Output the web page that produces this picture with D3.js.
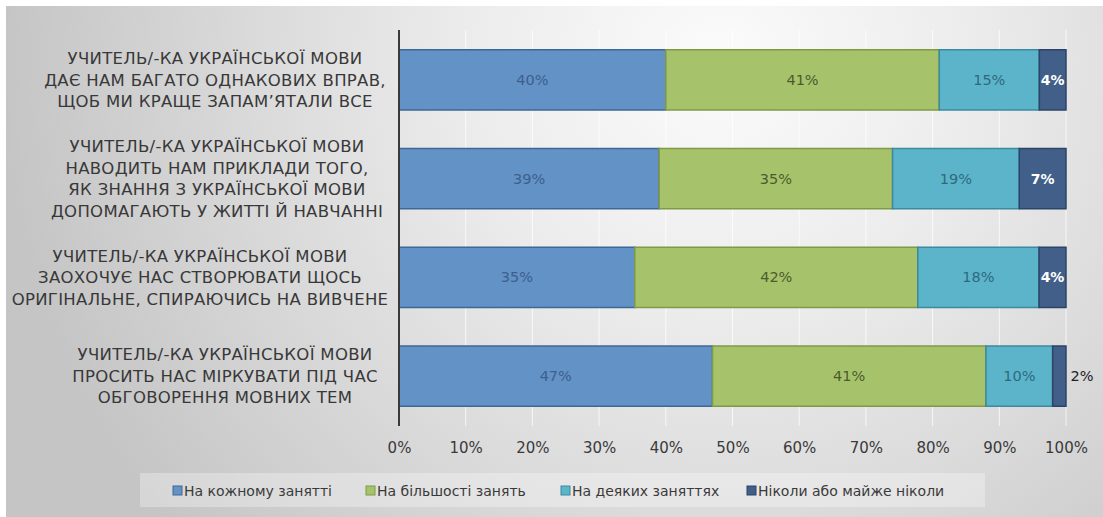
<!DOCTYPE html>
<html>
<head>
<meta charset="utf-8">
<script src="https://cdn.jsdelivr.net/npm/d3@7"></script>
<style>
  html, body { margin: 0; padding: 0; background: #fff; }
  svg { display: block; }
</style>
</head>
<body>
<svg id="chart"></svg>
<script>
// categories (one entry per line of the label)
var categories = [
  ['УЧИТЕЛЬ/-КА  УКРАЇНСЬКОЇ МОВИ', 'ДАЄ НАМ БАГАТО ОДНАКОВИХ ВПРАВ,', 'ЩОБ МИ КРАЩЕ ЗАПАМ’ЯТАЛИ ВСЕ'],
  ['УЧИТЕЛЬ/-КА УКРАЇНСЬКОЇ МОВИ', 'НАВОДИТЬ НАМ ПРИКЛАДИ ТОГО,', 'ЯК ЗНАННЯ З УКРАЇНСЬКОЇ МОВИ', 'ДОПОМАГАЮТЬ У ЖИТТІ Й НАВЧАННІ'],
  ['УЧИТЕЛЬ/-КА УКРАЇНСЬКОЇ МОВИ', 'ЗАОХОЧУЄ НАС СТВОРЮВАТИ ЩОСЬ', 'ОРИГІНАЛЬНЕ, СПИРАЮЧИСЬ НА ВИВЧЕНЕ'],
  ['УЧИТЕЛЬ/-КА УКРАЇНСЬКОЇ МОВИ', 'ПРОСИТЬ НАС МІРКУВАТИ ПІД ЧАС', 'ОБГОВОРЕННЯ МОВНИХ ТЕМ']
];
var seriesNames = ['На кожному занятті', 'На більшості занять', 'На деяких заняттях', 'Ніколи або майже ніколи'];
var everyLesson = [40, 39, 35, 47];
var mostLessons = [41, 35, 42, 41];
var someLessons = [15, 19, 18, 10];
var neverLessons = [4, 7, 4, 2];
var tickValues = [0, 0.1, 0.2, 0.3, 0.4, 0.5, 0.6, 0.7, 0.8, 0.9, 1];

var W = 1103, H = 517;
var FONT = "'DejaVu Sans', 'Liberation Serif', serif";
var colors = ['#6292c6', '#a6c36c', '#5cb4cb', '#415f88'];
var strokes = ['#3f6796', '#7f9a45', '#3a8aa0', '#2c4466'];
var textColors = ['#3e5f8c', '#4d5b2c', '#2e6a7c', '#ffffff'];
var labelCenterX = [215, 217, 200, 225];

var svg = d3.select('#chart').attr('width', W).attr('height', H).attr('font-family', FONT);
var defs = svg.append('defs');
var grad = defs.append('radialGradient').attr('id', 'bg')
  .attr('gradientUnits', 'userSpaceOnUse')
  .attr('cx', 720).attr('cy', 60).attr('r', 720);
grad.append('stop').attr('offset', '0').attr('stop-color', '#fbfbfb');
grad.append('stop').attr('offset', '0.35').attr('stop-color', '#ececec');
grad.append('stop').attr('offset', '1').attr('stop-color', '#c5c5c5');

svg.append('rect').attr('x', 6).attr('y', 6).attr('width', W - 6).attr('height', H - 6).attr('fill', 'url(#bg)');

var rows = categories.map(function (c, i) {
  return { idx: i, s0: everyLesson[i], s1: mostLessons[i], s2: someLessons[i], s3: neverLessons[i] };
});
var keys = ['s0', 's1', 's2', 's3'];
var stack = d3.stack().keys(keys).offset(d3.stackOffsetExpand);
var layers = stack(rows);

var x = d3.scaleLinear().domain([0, 1]).range([399, 1066]);
var y = d3.scaleBand().domain(d3.range(categories.length)).range([30, 426]).paddingInner(0.39).paddingOuter(0.2);

// gridlines
svg.append('g').selectAll('line').data(tickValues.slice(1)).enter().append('line')
  .attr('x1', function (d) { return x(d); }).attr('x2', function (d) { return x(d); })
  .attr('y1', 30).attr('y2', 426)
  .attr('stroke', '#ffffff').attr('stroke-opacity', 0.75).attr('stroke-width', 1);

// bars
var layerG = svg.append('g').selectAll('g').data(layers).enter().append('g');
layerG.selectAll('rect').data(function (d) { return d; }).enter().append('rect')
  .attr('x', function (d) { return x(d[0]); })
  .attr('y', function (d) { return y(d.data.idx); })
  .attr('width', function (d) { return x(d[1]) - x(d[0]); })
  .attr('height', y.bandwidth())
  .attr('fill', function () { return colors[d3.select(this.parentNode).datum().index]; })
  .attr('stroke', function () { return strokes[d3.select(this.parentNode).datum().index]; })
  .attr('stroke-width', 1.5);

// bar value labels
layerG.selectAll('text').data(function (d) {
  return d.map(function (p) { return { p: p, k: d.key, i: d.index }; });
}).enter().append('text')
  .each(function (d) {
    var w = x(d.p[1]) - x(d.p[0]);
    var t = d3.select(this);
    var outside = w < 20;
    t.attr('x', outside ? x(d.p[1]) + 16 : (x(d.p[0]) + x(d.p[1])) / 2)
      .attr('y', y(d.p.data.idx) + y.bandwidth() / 2)
      .attr('dy', '0.35em')
      .attr('text-anchor', 'middle')
      .attr('font-size', (d.i === 3 && !outside) ? 14 : 14.5)
      .attr('fill', outside ? '#222' : textColors[d.i])
      .attr('font-weight', (d.i === 3 && !outside) ? 'bold' : 'normal')
      .text(d.p.data[d.k] + '%');
  });

// vertical axis line
svg.append('line').attr('x1', x(0)).attr('x2', x(0)).attr('y1', 30).attr('y2', 426)
  .attr('stroke', '#3a3a3a').attr('stroke-width', 2);

// x tick labels
var xAxis = d3.axisBottom(x).tickValues(tickValues).tickSize(0).tickPadding(0).tickFormat(d3.format('.0%'));
var xg = svg.append('g').attr('transform', 'translate(0,442)').call(xAxis);
xg.attr('font-family', FONT);
xg.select('.domain').remove();
xg.selectAll('text').attr('font-size', 15).attr('fill', '#3a3a3a');

// category labels
var catG = svg.append('g').selectAll('text').data(categories).enter().append('text')
  .attr('text-anchor', 'middle')
  .attr('font-size', 16.5)
  .attr('letter-spacing', 0.3)
  .attr('fill', '#383838');
catG.each(function (lines, i) {
  var cy = y(i) + y.bandwidth() / 2;
  var lh = 21.5;
  var top = cy - (lines.length - 1) * lh / 2;
  d3.select(this).selectAll('tspan').data(lines).enter().append('tspan')
    .attr('x', labelCenterX[i])
    .attr('y', function (d, j) { return top + j * lh; })
    .attr('dy', '0.35em')
    .text(function (d) { return d; });
});

// legend
var legend = svg.append('g');
legend.append('rect').attr('x', 140).attr('y', 473).attr('width', 845).attr('height', 34)
  .attr('fill', '#ffffff').attr('fill-opacity', 0.3);
var legendX = [173, 366, 561, 747];
var li = legend.selectAll('g.item').data(seriesNames).enter().append('g')
  .attr('transform', function (d, i) { return 'translate(' + legendX[i] + ',0)'; });
li.append('rect').attr('x', 0).attr('y', 486).attr('width', 9).attr('height', 9)
  .attr('fill', function (d, i) { return colors[i]; })
  .attr('stroke', function (d, i) { return strokes[i]; });
li.append('text').attr('x', 11).attr('y', 491).attr('dy', '0.35em')
  .attr('font-size', 14).attr('fill', '#3a3a3a')
  .text(function (d) { return d; });
</script>
</body>
</html>
